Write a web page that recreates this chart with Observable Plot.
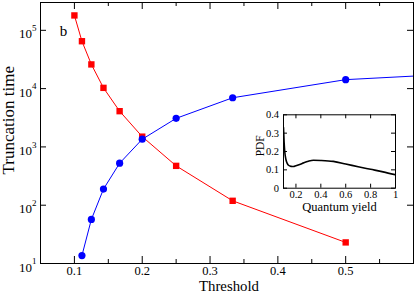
<!DOCTYPE html>
<html>
<head>
<meta charset="utf-8">
<script src="https://cdn.jsdelivr.net/npm/d3@7"></script>
<script src="https://cdn.jsdelivr.net/npm/@observablehq/plot@0.6"></script>
<style>
  html, body { margin: 0; padding: 0; background: white; }
  #wrap { position: relative; width: 415px; height: 294px; }
  #inset { position: absolute; left: 240px; top: 105px; }
  #wrap svg, #wrap svg text, #wrap svg tspan { font-family: "Liberation Serif", "Times New Roman", serif !important; }
</style>
</head>
<body>
<div id="wrap"><div id="main"></div><div id="inset"></div></div>
<script>
// ---- main chart data ----
const redThreshold = [0.1, 1/9, 0.125, 1/7, 1/6, 0.2, 0.25, 1/3, 0.5];
const redTime = [180000, 65000, 26000, 10300, 4100, 1500, 473, 119, 23];
const blueThreshold = [1/9, 0.125, 1/7, 1/6, 0.2, 0.25, 1/3, 0.5];
const blueTime = [13.7, 57, 189, 525, 1355, 3090, 6970, 14250];
// line continues past the last marker to the frame edge
const blueTailThreshold = [0.6];
const blueTailTime = [16400];

const xMajorTicks = [0.1, 0.2, 0.3, 0.4, 0.5];
const xMinorTicks = [0.05, 0.15, 0.25, 0.35, 0.45, 0.55];
const yTicks = [10, 100, 1000, 10000, 100000];

// ---- inset data ----
const quantumYield = [0.1, 0.105, 0.11, 0.12, 0.13, 0.14, 0.16, 0.18, 0.2, 0.25, 0.3, 0.34, 0.4, 0.5, 0.6, 0.7, 0.8, 0.9, 1.0];
const pdfValue = [0.33, 0.25, 0.2, 0.155, 0.135, 0.125, 0.119, 0.118, 0.122, 0.135, 0.147, 0.152, 0.151, 0.146, 0.132, 0.117, 0.103, 0.089, 0.073];
const insetXTicks = [0.2, 0.4, 0.6, 0.8, 1];
const insetYTicks = [0, 0.1, 0.2, 0.3, 0.4];

const red = redThreshold.map((x, i) => ({x, y: redTime[i]}));
const blue = blueThreshold.map((x, i) => ({x, y: blueTime[i]}));
const blueLine = blue.concat(blueTailThreshold.map((x, i) => ({x, y: blueTailTime[i]})));
const pdf = quantumYield.map((x, i) => ({x, y: pdfValue[i]}));

const FONT = "Liberation Serif";

const W = 415, H = 294, mL = 40, mR = 2, mT = 2, mB = 31;
const fw = W - mL - mR, fh = H - mT - mB;

const main = Plot.plot({
  width: W, height: H,
  marginLeft: mL, marginRight: mR, marginTop: mT, marginBottom: mB,
  style: {fontFamily: FONT, fontSize: "13px", background: "white", color: "black"},
  x: {domain: [0.05, 0.6]},
  y: {type: "log", domain: [10, 3e5]},
  marks: [
    Plot.ruleX(xMajorTicks, {x: d => d, insetTop: fh - 7, stroke: "black"}),
    Plot.ruleX(xMajorTicks, {x: d => d, insetBottom: fh - 7, stroke: "black"}),
    Plot.ruleX(xMinorTicks, {x: d => d, insetTop: fh - 4, stroke: "black"}),
    Plot.ruleX(xMinorTicks, {x: d => d, insetBottom: fh - 4, stroke: "black"}),
    Plot.ruleY(yTicks, {y: d => d, insetRight: fw - 6, stroke: "black"}),
    Plot.ruleY(yTicks, {y: d => d, insetLeft: fw - 6, stroke: "black"}),
    Plot.axisX({ticks: xMajorTicks, tickSize: 0, tickPadding: 3, tickFormat: d => d.toFixed(1), label: null, fontSize: 12.5, fontFamily: FONT}),
    Plot.axisY({ticks: yTicks, tickSize: 0, tickPadding: 4, tickFormat: d => String(Math.round(Math.log10(d))), label: null, fontSize: 13, dy: 4, fontFamily: FONT}),
    Plot.line(red, {x: "x", y: "y", stroke: "#ff0000", strokeWidth: 1, clip: true}),
    Plot.dot(red, {x: "x", y: "y", symbol: "square", r: 3.6, fill: "#ff0000", stroke: "none"}),
    Plot.line(blueLine, {x: "x", y: "y", stroke: "#0000ff", strokeWidth: 1, clip: true}),
    Plot.dot(blue, {x: "x", y: "y", symbol: "circle", r: 3.6, fill: "#0000ff", stroke: "none"}),
    Plot.frame({stroke: "black", strokeWidth: 1}),
    Plot.text(["Threshold"], {frameAnchor: "bottom", text: d => d, dx: 2, dy: 27.8, lineAnchor: "bottom", textAnchor: "middle", fontSize: 14.8, fontFamily: FONT}),
    Plot.text(["Truncation time"], {frameAnchor: "left", text: d => d, rotate: -90, dx: -27, dy: -12.8, lineAnchor: "bottom", textAnchor: "middle", fontSize: 17, fontFamily: FONT}),
    Plot.text(["b"], {frameAnchor: "top-left", text: d => d, dx: 19.3, dy: 33, textAnchor: "start", lineAnchor: "bottom", fontSize: 15, fontFamily: FONT})
  ]
});

// superscript exponents for the log axis labels
d3.select(main).selectAll('g[aria-label="y-axis tick label"] text').each(function() {
  const t = d3.select(this);
  const e = t.text();
  t.text(null);
  t.append("tspan").text("10");
  t.append("tspan").attr("dy", "-7.5").attr("font-size", "9px").text(e);
});
document.getElementById("main").appendChild(main);

const iW = 165, iH = 115, iL = 43, iR = 10, iT = 9.3, iB = 32.3;
const ifw = iW - iL - iR, ifh = iH - iT - iB;

const inset = Plot.plot({
  width: iW, height: iH,
  marginLeft: iL, marginRight: iR, marginTop: iT, marginBottom: iB,
  style: {fontFamily: FONT, fontSize: "10.5px", background: "transparent", color: "black", overflow: "visible"},
  x: {domain: [0.1, 1]},
  y: {domain: [0, 0.4]},
  marks: [
    Plot.ruleX(insetXTicks, {x: d => d, insetTop: ifh - 4, stroke: "black"}),
    Plot.ruleX(insetXTicks, {x: d => d, insetBottom: ifh - 4, stroke: "black"}),
    Plot.ruleY(insetYTicks, {y: d => d, insetRight: ifw - 4, stroke: "black"}),
    Plot.ruleY(insetYTicks, {y: d => d, insetLeft: ifw - 4, stroke: "black"}),
    Plot.axisX({ticks: insetXTicks, tickSize: 0, tickPadding: 2.5, tickFormat: d => d === 1 ? "1" : d.toFixed(1), label: null, fontSize: 10.5, fontFamily: FONT}),
    Plot.axisY({ticks: insetYTicks, tickSize: 0, tickPadding: 4.5, tickFormat: d => d === 0 ? "0" : d.toFixed(1), label: null, fontSize: 10.5, fontFamily: FONT}),
    Plot.line(pdf, {x: "x", y: "y", stroke: "black", strokeWidth: 1.6, curve: "monotone-x", clip: true}),
    Plot.frame({stroke: "black", strokeWidth: 1}),
    Plot.text(["Quantum yield"], {frameAnchor: "bottom", text: d => d, dy: 22.3, lineAnchor: "bottom", textAnchor: "middle", fontSize: 12.5, fontFamily: FONT}),
    Plot.text(["PDF"], {frameAnchor: "left", text: d => d, rotate: -90, dx: -20, dy: -5.7, lineAnchor: "bottom", textAnchor: "middle", fontSize: 11.5, fontFamily: FONT})
  ]
});
document.getElementById("inset").appendChild(inset);
</script>
</body>
</html>
